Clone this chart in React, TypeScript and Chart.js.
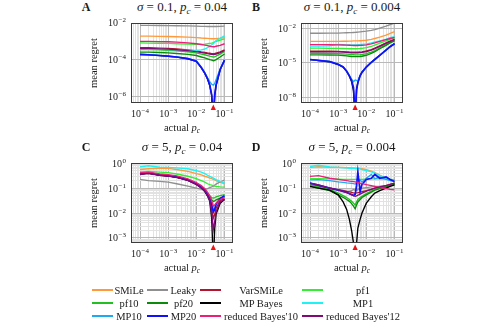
import React, { useEffect, useRef } from 'react';
import { Chart, registerables } from 'chart.js';

Chart.register(...registerables);

// ---------- series names & colours (legend order) ----------
const seriesNames = ['SMiLe', 'Leaky', 'VarSMiLe', 'pf1', 'pf10', 'pf20', 'MP Bayes', 'MP1', 'MP10', 'MP20', "reduced Bayes'10", "reduced Bayes'12"];
const seriesColors = ['#ff9a3c', '#8f8f8f', '#b4142d', '#33ee33', '#22c022', '#0c8a0c', '#000000', '#1ef2f2', '#1eaaf0', '#1010ff', '#eb1e78', '#820a78'];
const seriesWidths = [1.35, 1.35, 1.35, 1.35, 1.35, 1.35, 1.35, 1.35, 1.35, 1.7, 1.35, 1.35];

// ---------- x values ----------
const xFast = [1e-4, 2e-4, 5e-4, 1e-3, 2e-3, 5e-3, 1e-2, 1.5e-2, 2e-2, 2.5e-2, 3e-2, 3.5e-2, 4e-2, 4.5e-2, 5e-2, 7e-2, 1e-1]; // panels A, C
const xSlow = [1e-4, 2e-4, 5e-4, 1e-3, 1.5e-3, 2e-3, 2.5e-3, 3e-3, 3.5e-3, 4e-3, 4.5e-3, 5e-3, 6e-3, 7e-3, 1e-2, 1.5e-2, 2e-2, 3e-2, 5e-2, 7e-2, 1e-1]; // panels B, D

// ---------- panel A: sigma = 0.1, pc = 0.04 ----------
const A_SMiLe = [1.74e-3, 1.74e-3, 1.7e-3, 1.66e-3, 1.62e-3, 1.55e-3, 1.45e-3, 1.38e-3, 1.35e-3, 1.32e-3, 1.29e-3, 1.26e-3, 1.26e-3, 1.26e-3, 1.29e-3, 1.35e-3, 1.45e-3];
const A_Leaky = [6.6e-3, 6.6e-3, 6.5e-3, 6.4e-3, 6.3e-3, 6.2e-3, 6.0e-3, 5.9e-3, 5.9e-3, 5.8e-3, 5.8e-3, 5.8e-3, 5.8e-3, 5.8e-3, 5.8e-3, 5.9e-3, 6.0e-3];
const A_VarSMiLe = [4.17e-4, 4.17e-4, 3.98e-4, 3.8e-4, 3.55e-4, 3.16e-4, 2.82e-4, 2.51e-4, 2.34e-4, 2.19e-4, 2.09e-4, 2.0e-4, 2.0e-4, 2.04e-4, 2.14e-4, 2.51e-4, 3.16e-4];
const A_pf1 = [7.6e-4, 7.4e-4, 7.2e-4, 7.1e-4, 6.8e-4, 6.5e-4, 6.3e-4, 6.3e-4, 6.5e-4, 6.8e-4, 7.1e-4, 7.4e-4, 7.9e-4, 8.5e-4, 9.1e-4, 1.07e-3, 1.26e-3];
const A_pf10 = [3.3e-4, 3.3e-4, 3.16e-4, 3.0e-4, 2.82e-4, 2.51e-4, 2.19e-4, 1.9e-4, 1.74e-4, 1.58e-4, 1.45e-4, 1.38e-4, 1.32e-4, 1.35e-4, 1.45e-4, 1.9e-4, 2.63e-4];
const A_pf20 = [2.4e-4, 2.4e-4, 2.29e-4, 2.19e-4, 2.04e-4, 1.82e-4, 1.58e-4, 1.32e-4, 1.17e-4, 1.05e-4, 9.5e-5, 8.9e-5, 8.3e-5, 8.7e-5, 9.5e-5, 1.32e-4, 1.9e-4];
const A_MPBayes = [1.78e-4, 1.7e-4, 1.55e-4, 1.41e-4, 1.29e-4, 1.05e-4, 7.6e-5, 3.4e-5, 1.7e-5, 8.5e-6, 3.8e-6, 1.1e-6, 1e-8, 1.1e-6, 3.8e-6, 2.7e-5, 8.7e-5];
const A_MP1 = [3.7e-4, 3.6e-4, 3.5e-4, 3.3e-4, 3.16e-4, 3.0e-4, 3.0e-4, 3.16e-4, 3.55e-4, 4.2e-4, 5.0e-4, 6.0e-4, 7.1e-4, 8.3e-4, 1.0e-3, 1.32e-3, 1.82e-3];
const A_MP10 = [1.86e-4, 1.78e-4, 1.62e-4, 1.48e-4, 1.35e-4, 1.1e-4, 8.1e-5, 3.7e-5, 1.9e-5, 1.0e-5, 6.3e-6, 4.5e-6, 4.0e-6, 5.0e-6, 7.9e-6, 3.0e-5, 9.1e-5];
const A_MP20 = [1.82e-4, 1.74e-4, 1.58e-4, 1.45e-4, 1.32e-4, 1.07e-4, 7.9e-5, 3.55e-5, 1.78e-5, 8.9e-6, 4.0e-6, 1.26e-6, 1e-7, 1.26e-6, 4.0e-6, 2.8e-5, 8.9e-5];
const A_rB10 = [9.1e-4, 9.1e-4, 8.9e-4, 8.7e-4, 8.3e-4, 7.6e-4, 6.8e-4, 6.2e-4, 5.75e-4, 5.4e-4, 5.0e-4, 4.8e-4, 4.7e-4, 4.7e-4, 5.0e-4, 5.6e-4, 6.8e-4];
const A_rB12 = [3.8e-4, 3.8e-4, 3.63e-4, 3.47e-4, 3.24e-4, 2.88e-4, 2.57e-4, 2.29e-4, 2.14e-4, 2.0e-4, 1.91e-4, 1.82e-4, 1.78e-4, 1.82e-4, 1.91e-4, 2.29e-4, 2.95e-4];

// ---------- panel B: sigma = 0.1, pc = 0.004 ----------
const B_SMiLe = [7.2e-4, 7.2e-4, 7.2e-4, 7.2e-4, 7.4e-4, 7.4e-4, 7.6e-4, 7.6e-4, 7.8e-4, 7.8e-4, 7.9e-4, 7.9e-4, 8.1e-4, 8.3e-4, 8.9e-4, 1.05e-3, 1.26e-3, 1.66e-3, 2.51e-3, 3.55e-3, 5.0e-3];
const B_Leaky = [3.55e-3, 3.55e-3, 3.63e-3, 3.7e-3, 3.8e-3, 3.9e-3, 3.98e-3, 4.07e-3, 4.17e-3, 4.27e-3, 4.37e-3, 4.47e-3, 4.68e-3, 4.9e-3, 5.37e-3, 6.3e-3, 7.4e-3, 1.0e-2, 1.48e-2, 2.0e-2, 2.63e-2];
const B_VarSMiLe = [1.05e-4, 1.05e-4, 1.02e-4, 1.0e-4, 9.5e-5, 9.1e-5, 8.7e-5, 8.5e-5, 8.3e-5, 8.3e-5, 8.3e-5, 8.5e-5, 8.7e-5, 9.1e-5, 1.07e-4, 1.41e-4, 1.9e-4, 3.0e-4, 5.25e-4, 7.6e-4, 1.07e-3];
const B_pf1 = [1.86e-4, 1.86e-4, 1.82e-4, 1.78e-4, 1.74e-4, 1.7e-4, 1.66e-4, 1.66e-4, 1.66e-4, 1.66e-4, 1.66e-4, 1.7e-4, 1.74e-4, 1.82e-4, 2.09e-4, 2.69e-4, 3.47e-4, 5.0e-4, 7.9e-4, 1.07e-3, 1.41e-3];
const B_pf10 = [6.8e-5, 6.8e-5, 6.6e-5, 6.3e-5, 6.0e-5, 5.75e-5, 5.5e-5, 5.25e-5, 5.1e-5, 5.0e-5, 5.0e-5, 5.0e-5, 5.1e-5, 5.4e-5, 6.3e-5, 8.7e-5, 1.17e-4, 2.0e-4, 3.8e-4, 6.0e-4, 8.9e-4];
const B_pf20 = [5.0e-5, 5.0e-5, 4.9e-5, 4.7e-5, 4.4e-5, 4.1e-5, 3.8e-5, 3.6e-5, 3.55e-5, 3.47e-5, 3.47e-5, 3.55e-5, 3.6e-5, 3.8e-5, 4.6e-5, 6.6e-5, 9.3e-5, 1.66e-4, 3.3e-4, 5.4e-4, 7.9e-4];
const B_MPBayes = [1.95e-5, 1.62e-5, 1.29e-5, 7.4e-6, 4.4e-6, 1.9e-6, 7.4e-7, 2.5e-7, 4.0e-8, 1e-10, 6.0e-8, 2.2e-7, 8.3e-7, 1.62e-6, 4.6e-6, 1.15e-5, 2.05e-5, 4.6e-5, 1.29e-4, 2.57e-4, 4.6e-4];
const B_MP1 = [2.82e-4, 2.82e-4, 2.95e-4, 3.98e-4, 3.8e-4, 3.63e-4, 3.55e-4, 3.55e-4, 3.55e-4, 3.55e-4, 3.63e-4, 3.7e-4, 3.8e-4, 3.98e-4, 4.37e-4, 5.25e-4, 6.3e-4, 7.9e-4, 1.12e-3, 1.48e-3, 1.86e-3];
const B_MP10 = [2.05e-5, 1.7e-5, 1.35e-5, 7.9e-6, 4.7e-6, 2.1e-6, 8.5e-7, 4.0e-7, 2.5e-7, 3.5e-7, 3.16e-7, 3.0e-7, 8.5e-7, 1.66e-6, 4.6e-6, 1.15e-5, 2.05e-5, 4.6e-5, 1.3e-4, 2.6e-4, 4.6e-4];
const B_MP20 = [2.0e-5, 1.66e-5, 1.32e-5, 7.6e-6, 4.5e-6, 2.0e-6, 7.9e-7, 3.16e-7, 7.9e-8, 3.2e-10, 5.0e-8, 2.0e-7, 7.9e-7, 1.58e-6, 4.5e-6, 1.12e-5, 2.0e-5, 4.5e-5, 1.26e-4, 2.51e-4, 4.5e-4];
const B_rB10 = [3.8e-4, 3.8e-4, 3.7e-4, 3.55e-4, 3.47e-4, 3.4e-4, 3.3e-4, 3.24e-4, 3.16e-4, 3.16e-4, 3.16e-4, 3.16e-4, 3.24e-4, 3.3e-4, 3.63e-4, 4.37e-4, 5.25e-4, 7.1e-4, 1.0e-3, 1.26e-3, 1.58e-3];
const B_rB12 = [9.3e-5, 9.3e-5, 9.1e-5, 8.9e-5, 8.5e-5, 8.1e-5, 7.8e-5, 7.6e-5, 7.4e-5, 7.4e-5, 7.4e-5, 7.6e-5, 7.8e-5, 8.1e-5, 9.5e-5, 1.26e-4, 1.7e-4, 2.69e-4, 4.8e-4, 7.1e-4, 1.0e-3];

// ---------- panel C: sigma = 5, pc = 0.04 ----------
const C_SMiLe = [0.56, 0.6, 0.63, 0.62, 0.56, 0.47, 0.38, 0.34, 0.3, 0.275, 0.25, 0.24, 0.224, 0.214, 0.2, 0.174, 0.15];
const C_Leaky = [0.224, 0.2, 0.186, 0.174, 0.15, 0.12, 0.1, 0.091, 0.089, 0.095, 0.105, 0.112, 0.12, 0.132, 0.145, 0.178, 0.21];
const C_VarSMiLe = [0.37, 0.4, 0.335, 0.31, 0.275, 0.21, 0.145, 0.107, 0.078, 0.053, 0.035, 0.014, 0.0063, 0.0089, 0.0158, 0.0316, 0.038];
const C_pf1 = [0.45, 0.47, 0.44, 0.42, 0.37, 0.3, 0.24, 0.2, 0.174, 0.15, 0.138, 0.132, 0.126, 0.12, 0.117, 0.112, 0.11];
const C_pf10 = [0.38, 0.41, 0.35, 0.32, 0.29, 0.22, 0.155, 0.118, 0.088, 0.064, 0.05, 0.042, 0.04, 0.042, 0.045, 0.05, 0.055];
const C_pf20 = [0.375, 0.4, 0.34, 0.315, 0.28, 0.215, 0.15, 0.112, 0.082, 0.058, 0.042, 0.034, 0.029, 0.031, 0.034, 0.04, 0.045];
const C_MPBayes = [0.365, 0.395, 0.33, 0.305, 0.27, 0.205, 0.14, 0.102, 0.073, 0.048, 0.03, 0.0063, 0.0001, 0.0025, 0.0089, 0.025, 0.035];
const C_MP1 = [0.71, 0.79, 0.69, 0.68, 0.65, 0.6, 0.5, 0.44, 0.38, 0.33, 0.295, 0.27, 0.25, 0.234, 0.22, 0.186, 0.158];
const C_MP10 = [0.385, 0.415, 0.35, 0.325, 0.29, 0.22, 0.154, 0.116, 0.085, 0.06, 0.04, 0.024, 0.0126, 0.0158, 0.024, 0.039, 0.048];
const C_MP20 = [0.38, 0.41, 0.345, 0.32, 0.285, 0.215, 0.15, 0.112, 0.082, 0.057, 0.038, 0.0224, 0.0112, 0.014, 0.0224, 0.038, 0.05];
const C_rB10 = [0.41, 0.44, 0.37, 0.345, 0.31, 0.235, 0.166, 0.126, 0.094, 0.068, 0.048, 0.032, 0.019, 0.021, 0.025, 0.035, 0.042];
const C_rB12 = [0.36, 0.39, 0.33, 0.305, 0.27, 0.205, 0.14, 0.103, 0.075, 0.05, 0.032, 0.01, 0.0022, 0.0045, 0.0112, 0.028, 0.035];

// ---------- panel D: sigma = 5, pc = 0.004 ----------
const D_SMiLe = [0.68, 0.72, 0.69, 0.68, 0.68, 0.66, 0.66, 0.65, 0.65, 0.63, 0.63, 0.62, 0.62, 0.6, 0.55, 0.48, 0.42, 0.33, 0.25, 0.214, 0.186];
const D_Leaky = [0.135, 0.117, 0.1, 0.089, 0.081, 0.076, 0.074, 0.079, 0.089, 0.083, 0.079, 0.089, 0.095, 0.1, 0.105, 0.112, 0.117, 0.12, 0.126, 0.132, 0.145];
const D_VarSMiLe = [0.135, 0.12, 0.1, 0.085, 0.079, 0.074, 0.071, 0.068, 0.065, 0.063, 0.065, 0.066, 0.069, 0.072, 0.079, 0.089, 0.1, 0.107, 0.126, 0.141, 0.158];
const D_pf1 = [0.24, 0.24, 0.234, 0.229, 0.224, 0.224, 0.224, 0.224, 0.224, 0.224, 0.224, 0.224, 0.224, 0.224, 0.229, 0.234, 0.234, 0.234, 0.229, 0.224, 0.219];
const D_pf10 = [0.135, 0.112, 0.089, 0.063, 0.05, 0.042, 0.035, 0.03, 0.025, 0.021, 0.028, 0.035, 0.042, 0.047, 0.06, 0.076, 0.089, 0.1, 0.117, 0.132, 0.158];
const D_pf20 = [0.117, 0.1, 0.079, 0.054, 0.043, 0.035, 0.0295, 0.024, 0.019, 0.0148, 0.021, 0.028, 0.035, 0.042, 0.054, 0.069, 0.083, 0.095, 0.112, 0.126, 0.145];
const D_MPBayes = [0.117, 0.1, 0.083, 0.054, 0.028, 0.014, 0.0056, 0.002, 0.00063, 3.2e-5, 0.00063, 0.0025, 0.0056, 0.01, 0.025, 0.045, 0.063, 0.079, 0.1, 0.117, 0.135];
const D_MP1 = [0.74, 0.83, 0.71, 0.68, 0.66, 0.65, 0.63, 0.63, 0.62, 0.62, 0.6, 0.6, 0.59, 0.56, 0.51, 0.45, 0.4, 0.316, 0.24, 0.21, 0.186];
const D_MP10 = [0.214, 0.219, 0.2, 0.178, 0.17, 0.162, 0.158, 0.155, 0.151, 0.145, 0.166, 0.19, 0.209, 0.178, 0.25, 0.355, 0.24, 0.28, 0.224, 0.2, 0.186];
const D_MP20 = [0.158, 0.132, 0.1, 0.083, 0.074, 0.068, 0.06, 0.055, 0.051, 0.056, 0.126, 0.447, 0.074, 0.141, 0.224, 0.25, 0.355, 0.25, 0.28, 0.224, 0.186];
const D_rB10 = [0.295, 0.316, 0.25, 0.224, 0.21, 0.2, 0.19, 0.186, 0.182, 0.178, 0.174, 0.17, 0.158, 0.151, 0.138, 0.126, 0.117, 0.105, 0.095, 0.089, 0.085];
const D_rB12 = [0.158, 0.135, 0.1, 0.085, 0.074, 0.066, 0.06, 0.055, 0.05, 0.047, 0.049, 0.052, 0.058, 0.063, 0.076, 0.089, 0.1, 0.112, 0.126, 0.141, 0.158];

// ---------- tick labels ----------
const xTickLabels = [1e-4, 1e-3, 1e-2, 1e-1];
const yTicksA = [1e-2, 1e-4, 1e-6];
const yTicksB = [1e-2, 1e-5, 1e-8];
const yTicksCD = [1, 1e-1, 1e-2, 1e-3];

const X_MIN = 4.79e-5;
const X_MAX = 0.2;

type PanelDef = {
  letter: string;
  sigma: string;
  pc: number;
  pcText: string;
  xs: number[];
  series: number[][];
  yMin: number;
  yMax: number;
  yLabels: number[];
  yMinor: boolean;
  box: { l: number; t: number; r: number; b: number };
};

const panels: PanelDef[] = [
  { letter: 'A', sigma: '0.1', pc: 0.04, pcText: '0.04', xs: xFast,
    series: [A_SMiLe, A_Leaky, A_VarSMiLe, A_pf1, A_pf10, A_pf20, A_MPBayes, A_MP1, A_MP10, A_MP20, A_rB10, A_rB12],
    yMin: 4.4e-7, yMax: 8.9e-3, yLabels: yTicksA, yMinor: false, box: { l: 131, t: 23, r: 233, b: 103 } },
  { letter: 'B', sigma: '0.1', pc: 0.004, pcText: '0.004', xs: xSlow,
    series: [B_SMiLe, B_Leaky, B_VarSMiLe, B_pf1, B_pf10, B_pf20, B_MPBayes, B_MP1, B_MP10, B_MP20, B_rB10, B_rB12],
    yMin: 3.7e-9, yMax: 2.7e-2, yLabels: yTicksB, yMinor: false, box: { l: 301, t: 23, r: 403, b: 103 } },
  { letter: 'C', sigma: '5', pc: 0.04, pcText: '0.04', xs: xFast,
    series: [C_SMiLe, C_Leaky, C_VarSMiLe, C_pf1, C_pf10, C_pf20, C_MPBayes, C_MP1, C_MP10, C_MP20, C_rB10, C_rB12],
    yMin: 6.3e-4, yMax: 1.02, yLabels: yTicksCD, yMinor: true, box: { l: 131, t: 163, r: 233, b: 243 } },
  { letter: 'D', sigma: '5', pc: 0.004, pcText: '0.004', xs: xSlow,
    series: [D_SMiLe, D_Leaky, D_VarSMiLe, D_pf1, D_pf10, D_pf20, D_MPBayes, D_MP1, D_MP10, D_MP20, D_rB10, D_rB12],
    yMin: 6.3e-4, yMax: 1.02, yLabels: yTicksCD, yMinor: true, box: { l: 301, t: 163, r: 403, b: 243 } },
];

const PAD = { left: 45, top: 6, right: 14, bottom: 22 };
const FONT = "'Liberation Serif', 'DejaVu Serif', serif";
const MAJOR_GRID = '#b9b9b9';
const MINOR_GRID = '#e2e2e2';

const isDecade = (v: number) => Math.abs(Math.log10(v) - Math.round(Math.log10(v))) < 1e-6;

function minorTicks(min: number, max: number) {
  const out: { value: number }[] = [];
  for (let e = Math.floor(Math.log10(min)); e <= Math.ceil(Math.log10(max)); e++) {
    for (let k = 1; k <= 9; k++) {
      const v = k * Math.pow(10, e);
      if (v > min * 1.0001 && v < max / 1.0001) out.push({ value: v });
    }
  }
  return out;
}

function drawPow(ctx: CanvasRenderingContext2D, v: number, x: number, y: number, align: 'center' | 'right') {
  const e = Math.round(Math.log10(v));
  const base = '10';
  const sup = e < 0 ? '\u2212' + Math.abs(e) : String(e);
  ctx.font = `10px ${FONT}`;
  const wb = ctx.measureText(base).width;
  ctx.font = `7px ${FONT}`;
  const ws = ctx.measureText(sup).width;
  const total = wb + 0.6 + ws;
  const x0 = align === 'center' ? x - total / 2 : x - total;
  ctx.fillStyle = '#1a1a1a';
  ctx.textAlign = 'left';
  ctx.textBaseline = 'alphabetic';
  ctx.font = `10px ${FONT}`;
  ctx.fillText(base, x0, y);
  ctx.font = `7px ${FONT}`;
  ctx.fillText(sup, x0 + wb + 0.6, y - 4);
}

function PanelChart({ p }: { p: PanelDef }) {
  const ref = useRef<HTMLCanvasElement>(null);
  const cw = p.box.r - p.box.l + PAD.left + PAD.right;
  const ch = p.box.b - p.box.t + PAD.top + PAD.bottom;
  useEffect(() => {
    const decor = {
      id: 'decor' + p.letter,
      afterDraw(chart: any) {
        const { ctx, chartArea: a, scales } = chart;
        ctx.save();
        ctx.strokeStyle = '#3c3c3c';
        ctx.lineWidth = 1;
        ctx.strokeRect(Math.round(a.left) + 0.5, Math.round(a.top) + 0.5, Math.round(a.right - a.left) - 1, Math.round(a.bottom - a.top) - 1);
        // red marker at the true change probability
        const px = scales.x.getPixelForValue(p.pc);
        ctx.fillStyle = '#ee1111';
        ctx.beginPath();
        ctx.moveTo(px, a.bottom + 1.5);
        ctx.lineTo(px - 2.6, a.bottom + 7);
        ctx.lineTo(px + 2.6, a.bottom + 7);
        ctx.closePath();
        ctx.fill();
        for (const v of xTickLabels) drawPow(ctx, v, scales.x.getPixelForValue(v), a.bottom + 14, 'center');
        for (const v of p.yLabels) drawPow(ctx, v, a.left - 5, scales.y.getPixelForValue(v) + 3.5, 'right');
        ctx.restore();
      },
    };
    const n = seriesNames.length;
    const chart = new Chart(ref.current as HTMLCanvasElement, {
      type: 'line',
      data: {
        datasets: seriesNames.map((name, i) => ({
          label: name,
          data: p.xs.map((x, j) => ({ x, y: p.series[i][j] })),
          borderColor: seriesColors[i],
          backgroundColor: seriesColors[i],
          borderWidth: seriesWidths[i],
          pointRadius: 0,
          tension: 0,
          fill: false,
          order: n - i,
        })),
      },
      options: {
        animation: false,
        responsive: false,
        maintainAspectRatio: false,
        devicePixelRatio: 1,
        events: [],
        layout: { padding: PAD },
        plugins: { legend: { display: false }, tooltip: { enabled: false }, title: { display: false } },
        scales: {
          x: {
            type: 'logarithmic',
            min: X_MIN,
            max: X_MAX,
            bounds: 'data',
            border: { display: false },
            ticks: { display: false },
            grid: {
              drawTicks: false,
              lineWidth: 1,
              color: (c: any) => (c.tick && isDecade(c.tick.value) ? MAJOR_GRID : MINOR_GRID),
            },
            afterBuildTicks: (axis: any) => {
              axis.ticks = minorTicks(X_MIN, X_MAX);
            },
          },
          y: {
            type: 'logarithmic',
            min: p.yMin,
            max: p.yMax,
            bounds: 'data',
            border: { display: false },
            ticks: { display: false },
            grid: {
              drawTicks: false,
              lineWidth: 1,
              color: (c: any) => (c.tick && isDecade(c.tick.value) ? MAJOR_GRID : MINOR_GRID),
            },
            afterBuildTicks: (axis: any) => {
              axis.ticks = p.yMinor
                ? minorTicks(p.yMin, p.yMax)
                : p.yLabels.filter((v) => v > p.yMin && v < p.yMax).map((v) => ({ value: v }));
            },
          },
        },
      } as any,
      plugins: [decor],
    });
    return () => chart.destroy();
  }, []);
  return (
    <canvas
      ref={ref}
      width={cw}
      height={ch}
      style={{ position: 'absolute', left: p.box.l - PAD.left, top: p.box.t - PAD.top, width: cw, height: ch }}
    />
  );
}

const abs = (extra: React.CSSProperties): React.CSSProperties => ({
  position: 'absolute',
  whiteSpace: 'nowrap',
  fontFamily: FONT,
  color: '#1a1a1a',
  ...extra,
});

function Sub({ children }: { children: React.ReactNode }) {
  return <span style={{ fontSize: '0.7em', fontStyle: 'italic', position: 'relative', top: '0.3em' }}>{children}</span>;
}

function PanelText({ p }: { p: PanelDef }) {
  const cx = (p.box.l + p.box.r) / 2;
  const cy = (p.box.t + p.box.b) / 2;
  return (
    <>
      <div style={abs({ left: p.box.l - 45, top: p.box.t - 16, transform: 'translate(-50%,-50%)', fontWeight: 'bold', fontSize: 12, lineHeight: '12px' })}>
        {p.letter}
      </div>
      <div style={abs({ left: cx, top: p.box.t - 16, transform: 'translate(-50%,-50%)', fontSize: 13, lineHeight: '14px' })}>
        <i>σ</i> = {p.sigma}, <i>p</i>
        <Sub>c</Sub> = {p.pcText}
      </div>
      <div style={abs({ left: p.box.l - 38, top: cy, transform: 'translate(-50%,-50%) rotate(-90deg)', fontSize: 10.5, lineHeight: '11px' })}>
        mean regret
      </div>
      <div style={abs({ left: cx, top: p.box.b + 25, transform: 'translate(-50%,-50%)', fontSize: 10.5, lineHeight: '11px' })}>
        actual <i>p</i>
        <Sub>c</Sub>
      </div>
    </>
  );
}

// legend grid: 4 columns x 3 rows
const legendLineX = [92, 147, 200, 302];
const legendTextX = [129, 183.5, 261, 363];
const legendRowY = [290, 302.7, 315.7];

function Legend() {
  return (
    <>
      {seriesNames.map((name, i) => {
        const col = i % 4;
        const row = Math.floor(i / 4);
        const y = legendRowY[row];
        return (
          <React.Fragment key={name}>
            <div
              style={{
                position: 'absolute',
                left: legendLineX[col],
                top: Math.round(y) - 1,
                width: 21,
                height: 2,
                backgroundColor: seriesColors[i],
              }}
            />
            <div style={abs({ left: legendTextX[col], top: y, transform: 'translate(-50%,-50%)', fontSize: 10.5, lineHeight: '11px' })}>
              {name}
            </div>
          </React.Fragment>
        );
      })}
    </>
  );
}

export default function App() {
  return (
    <div style={{ position: 'fixed', left: 0, top: 0, width: 495, height: 330, background: '#ffffff', overflow: 'hidden' }}>
      {panels.map((p) => (
        <PanelChart key={p.letter} p={p} />
      ))}
      {panels.map((p) => (
        <PanelText key={'t' + p.letter} p={p} />
      ))}
      <Legend />
    </div>
  );
}
